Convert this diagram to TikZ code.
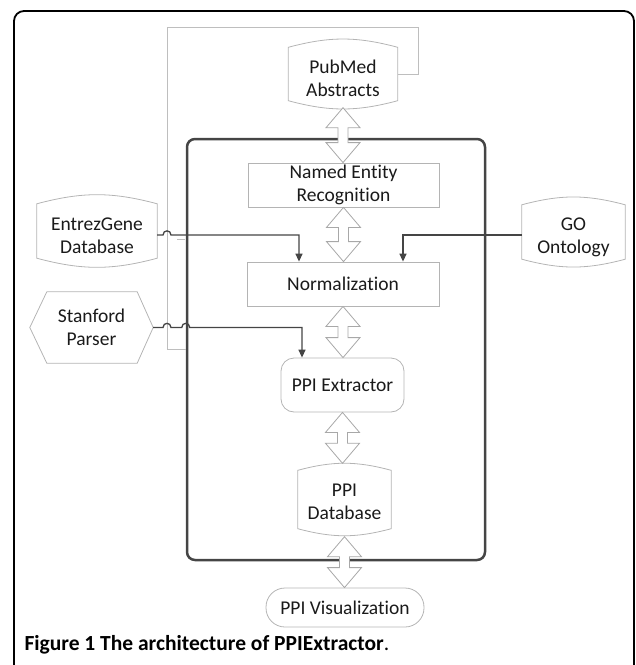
\documentclass[tikz,border=0pt]{standalone}
\usepackage{fontspec}
\setmainfont{Carlito}[Ligatures=NoCommon]
\usetikzlibrary{arrows.meta,calc}

\definecolor{boxgray}{HTML}{B4B4B4}
\definecolor{arrowgray}{HTML}{A8A8A8}
\definecolor{linkgray}{HTML}{454545}
\definecolor{loopgray}{HTML}{BEBEBE}
\definecolor{textgray}{HTML}{1A1A1A}

\newcommand{\lift}[1]{\rule{0pt}{#1}}

\tikzset{
    boxtext/.style={font=\fontsize{19.5}{23}\selectfont, text=textgray, align=center, inner sep=0pt},
    procbox/.style={boxtext, draw=boxgray, line width=0.8pt},
    storebox/.style={boxtext},
    outline/.style={draw=boxgray, line width=0.8pt},
    biarrow/.style={draw=arrowgray, fill=white, line width=0.8pt, line join=miter},
    link/.style={draw=linkgray, line width=1.3pt},
    loopline/.style={draw=loopgray, line width=1pt},
    coreframe/.style={draw=linkgray, line width=2.5pt, rounded corners=8pt, inner sep=0pt},
}

\begin{document}
\begin{tikzpicture}[x=1pt, y=-1pt, >={Triangle[length=8pt,width=7pt]}]
            \useasboundingbox (0,0) rectangle (636,665);
            \clip (0,0) rectangle (636,665);
            \draw[line width=1.8pt, rounded corners=10pt] (14,11) rectangle (634,720);

            \node[coreframe, minimum width=298, minimum height=421] (core) at (336,349.5) {};

            \node[storebox, minimum width=109, minimum height=53] (pubmed) at (343,74) {\lift{23pt}PubMed\\Abstracts};
            \node[procbox, minimum width=191, minimum height=44] (ner) at (343.5,185) {Named Entity\\Recognition};
            \node[procbox, minimum width=192, minimum height=44] (norm) at (343,284) {Normalization};
            \node[procbox, rounded corners=13pt, minimum width=123, minimum height=54] (ppiext) at (342.5,385) {PPI Extractor};
            \node[storebox, minimum width=93, minimum height=58] (ppidb) at (344.5,499.5) {\lift{17pt}PPI\\Database};
            \node[procbox, rounded corners=19pt, minimum width=158, minimum height=39] (ppivis) at (345,607.5) {PPI Visualization};

            \node[storebox, minimum width=120, minimum height=54] (entrez) at (97,231) {\lift{23pt}EntrezGene\\Database};
            \node[storebox, minimum width=123, minimum height=71] (stanford) at (91.5,327.5) {Stanford\\Parser};
            \node[storebox, minimum width=103, minimum height=54] (goont) at (573.5,232) {\lift{23pt}GO\\Ontology};

            \foreach \db in {pubmed, ppidb, entrez, goont}
                \draw[outline] (\db.north west) to[bend left=15] (\db.north east) -- (\db.south east)
                    to[bend left=15] (\db.south west) -- cycle;
            \draw[outline] (stanford.west) -- ([xshift=17pt]stanford.north west) -- ([xshift=-16pt]stanford.north east)
                -- (stanford.east) -- ([xshift=-16pt]stanford.south east) -- ([xshift=17pt]stanford.south west) -- cycle;

            \coordinate (loopNE) at (418,27);
            \coordinate (loopNW) at (167,27);
            \draw[loopline] (pubmed.east) -| (loopNE) -- (loopNW) |- (core.west);
            \draw[loopline] (177,239) -- (185,239);

            \coordinate (gapL) at (163,0);
            \coordinate (gapR) at (171,0);
            \coordinate (coreL) at ([xshift=-4pt]core.west);
            \coordinate (coreR) at ([xshift=4pt]core.west);
            \coordinate (entrezout) at ([yshift=-4pt]entrez.east);
            \coordinate (goout) at ([yshift=-3pt]goont.west);

            \draw[link, ->] (entrezout) -- (gapL |- entrezout) .. controls +(0,-5.5) and +(0,-5.5) .. (gapR |- entrezout)
                -| ([xshift=-44pt]norm.north);
            \draw[link, ->] (goout) -| ([xshift=60pt]norm.north);
            \draw[link, ->] (stanford.east) -- (gapL |- stanford.east) .. controls +(0,-5.5) and +(0,-5.5) .. (gapR |- stanford.east)
                -- (coreL |- stanford.east) .. controls +(0,-5.5) and +(0,-5.5) .. (coreR |- stanford.east)
                -| ([xshift=-40.5pt]ppiext.north);

            \newcommand{\twoway}[2]{
                \draw[biarrow] let \p1=(#1), \p2=(#2) in
                    (\x1,\y1) -- (\x1+17pt,\y1-20pt) -- (\x1+5pt,\y1-20pt) -- (\x1+5pt,\y2+20pt)
                    -- (\x1+17pt,\y2+20pt) -- (\x1,\y2) -- (\x1-17pt,\y2+20pt) -- (\x1-5pt,\y2+20pt)
                    -- (\x1-5pt,\y1-20pt) -- (\x1-17pt,\y1-20pt) -- cycle;
            }

            \twoway{[yshift=-7pt]pubmed.south}{ner.north};
            \twoway{ner.south}{norm.north};
            \twoway{norm.south}{ppiext.north};
            \twoway{ppiext.south}{[yshift=7pt]ppidb.north};
            \twoway{[yshift=-8pt]ppidb.south}{ppivis.north};

            \node[anchor=west, font=\fontsize{21.5}{25}\selectfont\bfseries] (caption) at (21,645)
                {Figure 1 The architecture of PPIExtractor\textmd{.}};
        \end{tikzpicture}
\end{document}
